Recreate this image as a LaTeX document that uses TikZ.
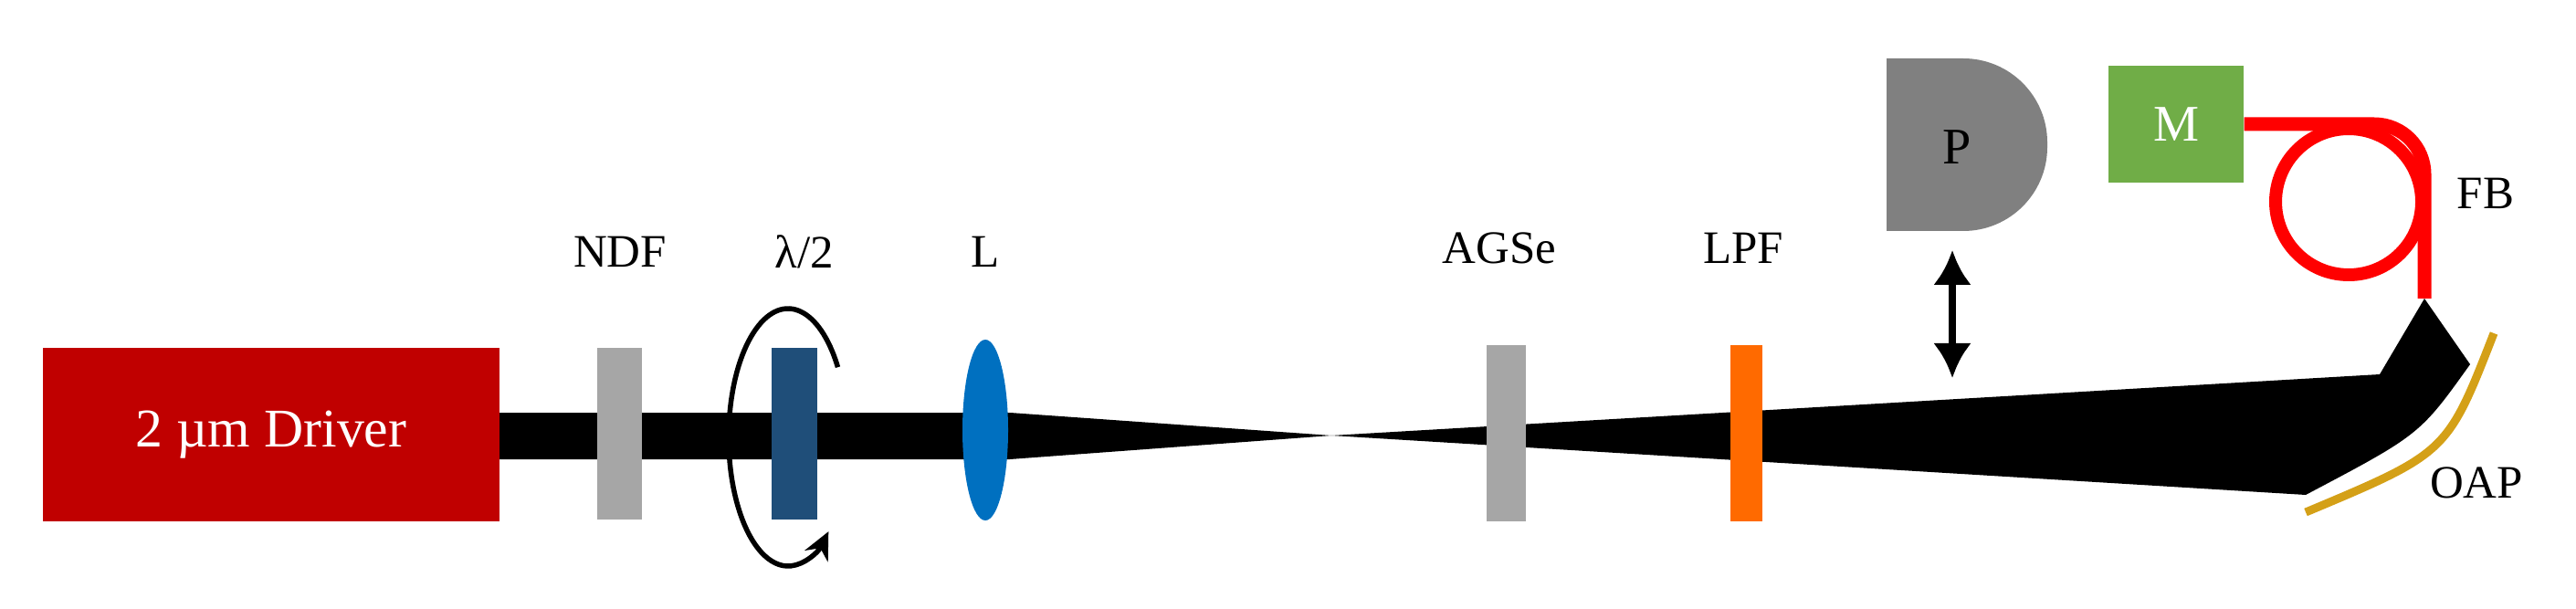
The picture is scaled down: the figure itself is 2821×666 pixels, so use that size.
\documentclass[tikz,border=0pt]{standalone}
\usepackage{fontspec}
\setmainfont{Liberation Serif}
\usetikzlibrary{arrows.meta}
\definecolor{drv}{HTML}{C00000}
\definecolor{wp}{HTML}{1F4E79}
\definecolor{lens}{HTML}{0070C0}
\definecolor{lpf}{HTML}{FF6A00}
\definecolor{mcol}{HTML}{70AD47}
\definecolor{oap}{HTML}{D4A017}
\definecolor{pgray}{HTML}{808080}
\definecolor{plate}{HTML}{A6A6A6}
\begin{document}
\begin{tikzpicture}[x=0.1mm,y=0.1mm,
  lbl/.style={font=\fontsize{14.5}{16}\selectfont,inner sep=0}]
\useasboundingbox (0,0) rectangle (2821,666);
% beam
\fill[black] (547,214)--(1106,214)--(1458,189)--(2606,256)--(2655,339)--(2705,267)
  .. controls (2650,190) .. (2525,124) -- (1458,189) -- (1106,163) -- (547,163) -- cycle;
% driver
\node[fill=drv,minimum width=50mm,minimum height=19mm,inner sep=0,text=white,
  font=\fontsize{17}{20}\selectfont] (drv) at (297,190) {2 µm Driver};
% NDF
\fill[plate] (654,97) rectangle (703,285);
\node[lbl] (ndf) at (679,390) {NDF};
% waveplate
\fill[wp] (845,97) rectangle (895,285);
\node[lbl] (wpl) at (881,390) {λ/2};
\draw[line width=0.55mm,-{Stealth[length=3mm,width=2.8mm]}] (917.5,263.8) arc[start angle=33,end angle=313,x radius=65,y radius=141];
% lens
\fill[lens] (1079,195) ellipse [x radius=25,y radius=99];
\node[lbl] (l) at (1079,390) {L};
% AGSe
\fill[plate] (1628,95) rectangle (1671,288);
\node[lbl] (agse) at (1642,394) {AGSe};
% LPF
\fill[lpf] (1895,95) rectangle (1930,288);
\node[lbl] (lpfl) at (1909,394) {LPF};
% P
\fill[pgray] (2066,413) -- (2150,413) arc[start angle=-90,end angle=0,radius=9.2mm] -- (2242,510) arc[start angle=0,end angle=90,radius=9.2mm] -- (2066,602) -- cycle;
\node[font=\fontsize{16}{18}\selectfont] (p) at (2143,505) {P};
\draw[line width=0.75mm,{Latex[length=3.8mm,width=4.2mm]}-{Latex[length=3.8mm,width=4.2mm]}] (2138,392) -- (2138,252);
% M and fiber
\node[fill=mcol,minimum width=14.8mm,minimum height=12.8mm,inner sep=0,text=white,
  font=\fontsize{16}{18}\selectfont] (m) at (2383,530) {M};
\draw[red,line width=1.5mm,line join=round] (m.east) -- (2600,530) arc[start angle=90,end angle=0,radius=5.5mm] -- (2655,339);
\draw[red,line width=1.4mm] (2572,445) circle [radius=8mm];
\node[lbl] (fb) at (2722,454) {FB};
% OAP
\draw[oap,line width=0.9mm] (2731,301) .. controls (2680,170) .. (2525,105);
\node[lbl] (oapl) at (2712,137) {OAP};
\end{tikzpicture}
\end{document}
